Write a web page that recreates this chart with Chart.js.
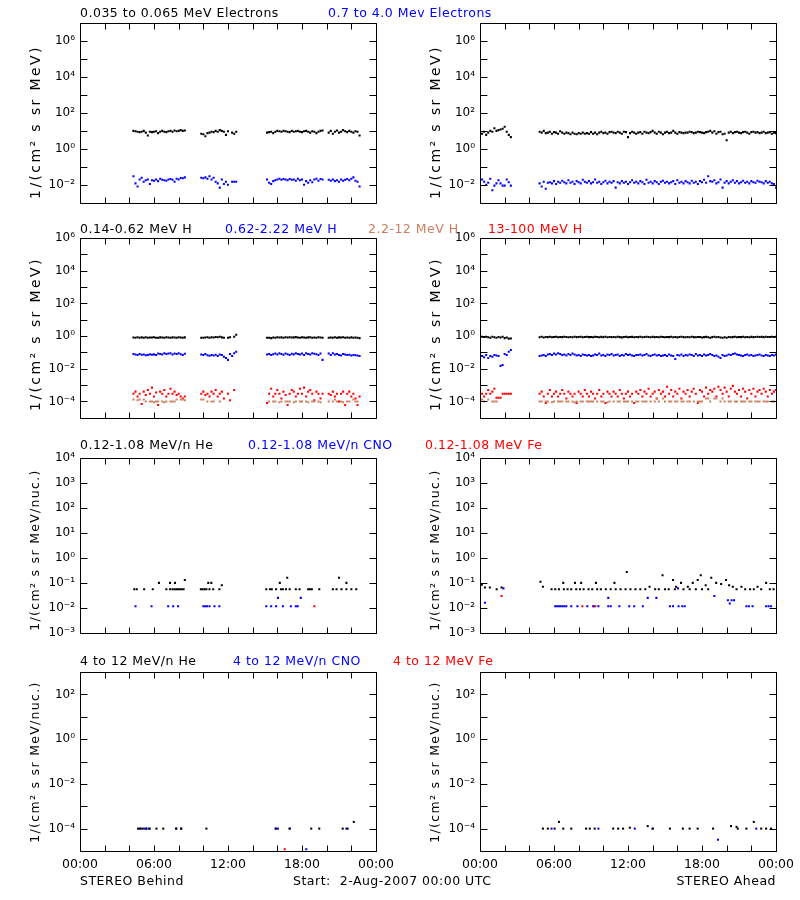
<!DOCTYPE html>
<html>
<head>
<meta charset="utf-8">
<title>STEREO in-situ particle summary, 2-Aug-2007</title>
<script src="https://cdn.jsdelivr.net/npm/chart.js@4.4.1/dist/chart.umd.min.js"></script>
<style>
  body { margin: 0; background: #fff; font-family: "DejaVu Sans", sans-serif; }
  #page { position: relative; width: 800px; height: 900px; overflow: hidden; }
  canvas { position: absolute; }
  .lbl { position: absolute; font-size: 12.5px; letter-spacing: .5px; line-height: 1; white-space: pre; transform: translateY(-50%); }
  .yt { position: absolute; line-height: 1; white-space: pre; transform: translate(-50%, -50%) rotate(-90deg); }
  .yt.big { font-size: 14px; letter-spacing: 2.4px; }
  .yt.small { font-size: 12.5px; letter-spacing: 1.3px; }
</style>
</head>
<body>
<div id="page">
  <div class="lbl" style="left:80px;top:13px">0.035 to 0.065 MeV Electrons</div>
  <div class="lbl" style="left:328px;top:13px;color:#00f">0.7 to 4.0 Mev Electrons</div>

  <div class="lbl" style="left:80px;top:229px">0.14-0.62 MeV H</div>
  <div class="lbl" style="left:225px;top:229px;color:#00f">0.62-2.22 MeV H</div>
  <div class="lbl" style="left:368px;top:229px;color:#cd7f5f">2.2-12 MeV H</div>
  <div class="lbl" style="left:488px;top:229px;color:#f00">13-100 MeV H</div>

  <div class="lbl" style="left:80px;top:445px">0.12-1.08 MeV/n He</div>
  <div class="lbl" style="left:248px;top:445px;color:#00f">0.12-1.08 MeV/n CNO</div>
  <div class="lbl" style="left:425px;top:445px;color:#f00">0.12-1.08 MeV Fe</div>

  <div class="lbl" style="left:80px;top:661px">4 to 12 MeV/n He</div>
  <div class="lbl" style="left:233px;top:661px;color:#00f">4 to 12 MeV/n CNO</div>
  <div class="lbl" style="left:393px;top:661px;color:#f00">4 to 12 MeV Fe</div>

  <div class="yt big" style="left:35px;top:122px">1/(cm² s sr MeV)</div>
  <div class="yt big" style="left:435px;top:122px">1/(cm² s sr MeV)</div>
  <div class="yt big" style="left:35px;top:334px">1/(cm² s sr MeV)</div>
  <div class="yt big" style="left:435px;top:334px">1/(cm² s sr MeV)</div>
  <div class="yt small" style="left:35px;top:550px">1/(cm² s sr MeV/nuc.)</div>
  <div class="yt small" style="left:435px;top:550px">1/(cm² s sr MeV/nuc.)</div>
  <div class="yt small" style="left:35px;top:762px">1/(cm² s sr MeV/nuc.)</div>
  <div class="yt small" style="left:435px;top:762px">1/(cm² s sr MeV/nuc.)</div>

  <div class="lbl" style="left:80px;top:881px">STEREO Behind</div>
  <div class="lbl" style="left:293px;top:881px">Start:  2-Aug-2007 00:00 UTC</div>
  <div class="lbl" style="right:24px;top:881px">STEREO Ahead</div>
</div>
<script>
// ---------------- data: hours after 2-Aug-2007 00:00 UTC ----------------
const STEP_MIN = 10;                       // 10-minute averages
const behindStarts = ['04:20', '09:50', '15:10', '20:10'];
const aheadStarts = ['00:00', '04:50'];

const xTickHours = [0, 2, 4, 6, 8, 10, 12, 14, 16, 18, 20, 22, 24];
const xLabelAt = [0, 6, 12, 18, 24];
const xLabelText = ['00:00', '06:00', '12:00', '18:00', '00:00'];

// y decades per row and which ones get a label
const eleDecades = [-3, -2, -1, 0, 1, 2, 3, 4, 5, 6, 7];
const eleLabeled = [-2, 0, 2, 4, 6];
const protDecades = [-5, -4, -3, -2, -1, 0, 1, 2, 3, 4, 5, 6];
const protLabeled = [-4, -2, 0, 2, 4, 6];
const lowIonDecades = [-3, -2, -1, 0, 1, 2, 3, 4];
const lowIonLabeled = [-3, -2, -1, 0, 1, 2, 3, 4];
const highIonDecades = [-5, -4, -3, -2, -1, 0, 1, 2, 3];
const highIonLabeled = [-4, -2, 0, 2];

// electrons, STEREO Behind (one array per data segment)
const bEleLow = [
  [10, 9.5, 9, 8.5, 9, 10, 8, 5.5, 9, 8.5, 9, 9.5, 7.5, 9, 10, 9, 8.5, 9.5, 10, 9, 10.5, 9.5, 10, 11, 10, 10.5],
  [7, 6.5, 5, 7.5, 8, 9, 8.5, 10, 9, 11, 10, 9, 6, 9.5, null, 8, 7, 9],
  [8, 8.5, 9, 7.5, 9, 10, 9.5, 9, 10, 9.5, 9, 8.5, 10, 9, 9.5, 10, 9, 8.5, 9.5, 10, 9, 8, 9.5, 9, 7.5, 9, 10, 10.5],
  [8, 10, 7, 9, 10.5, 8, 9, 11, 9.5, 8.5, 10, 9, 8, 9.5, 9, 5.5]
];
const bEleHigh = [
  [.03, .012, .008, .02, .025, .015, .018, .02, .011, .018, .017, .02, .016, .022, .019, .018, .017, .02, .021, .019, .015, .022, .02, .024, .023, .026],
  [.025, .023, .026, .022, .03, .02, .025, .015, .012, .007, .02, .011, .015, .01, null, .015, .015, .015],
  [.02, .013, .011, .016, .018, .02, .022, .019, .021, .02, .018, .021, .019, .02, .017, .022, .018, .02, .01, .016, .013, .018, .014, .02, .022, .017, .021, .02],
  [.019, .017, .02, .016, .018, .015, .02, .017, .019, .021, .018, .022, .026, .017, .015, .008]
];
// electrons, STEREO Ahead
const aEleLow = [
  [8, 7, 9, 6, 8, 10, 9, 14, 10, 11, 12, 13, 17, 9, 6, 4.5],
  [9, 8, 10, 7.5, 8, 9, 7, 8.5, 8, 7, 9.5, 8,
   7, 8, 7.5, 6.5, 8, 7, 6.5, 7.5, 7, 8, 7, 7.5,
   7, 8.5, 7, 8, 6.5, 8, 9, 7.5, 8, 7, 8.5, 9,
   8, 7.5, 9, 8, 7, 9, 8.5, 4.5, 7.5, 9, 8, 7,
   8, 8.5, 7, 9, 8, 7.5, 8.5, 10, 8, 7, 9, 8,
   6.5, 8, 9, 7.5, 8, 10, 8, 7, 8.5, 8, 7.5, 8,
   8, 9, 8.5, 7.5, 8, 9, 8.5, 8, 7.5, 8.5, 9, 10,
   8, 9.5, 7, 8.5, 9, 6.5, 7, 3, 8, 9, 7.5, 8.5,
   9, 8, 7.5, 8.5, 9, 8, 7, 8.5, 9, 8, 8.5, 7.5,
   8, 9, 7.5, 8, 8.5, 7, 8, 7.5]
];
const aEleHigh = [
  [.012, .02, .015, .01, .013, .022, .005, .009, .012, .018, .012, .009, .009, .02, .014, .009],
  [.012, .008, .015, .006, .013, .014, .012, .016, .011, .015, .013, .017,
   .014, .012, .018, .013, .015, .011, .016, .014, .012, .019, .015, .013,
   .016, .012, .014, .02, .013, .015, .011, .014, .017, .012, .015, .013,
   .016, .007, .014, .012, .016, .013, .015, .011, .014, .018, .013, .015,
   .012, .016, .014, .011, .019, .013, .015, .012, .016, .014, .011, .015,
   .017, .013, .015, .012, .014, .016, .011, .018, .013, .015, .012, .016,
   .014, .012, .017, .013, .015, .011, .016, .014, .019, .013, .03, .016,
   .015, .018, .012, .014, .02, .007, .013, .016, .012, .015, .018, .013,
   .016, .012, .014, .017, .013, .015, .012, .016, .014, .013, .017, .015,
   .014, .012, .016, .013, .015, .012, .011, .007]
];

// protons, STEREO Behind
const bH014 = [
  [.82, .8, .85, .78, .83, .8, .84, .79, .82, .81, .85, .8, .78, .83, .82, .8, .84, .81, .79, .83, .82, .8, .85, .81, .8, .83],
  [.8, .78, .82, .85, .8, .84, .82, .88, .85, .9, .83, .8, null, .78, .85, null, .9, 1.2],
  [.78, .8, .75, .82, .8, .84, .81, .83, .8, .85, .82, .84, .81, .83, .86, .82, .8, .84, .82, .8, .83, .85, .78, .82, .8, .84, .81, .79],
  [.8, .82, .78, .84, .8, .83, .81, .85, .8, .82, .78, .83, .8, .81, .79, .75]
];
const bH062 = [
  [.08, .075, .07, .08, .072, .075, .068, .07, .078, .073, .076, .07, .085, .08, .075, .09, .08, .085, .09, .075, .085, .08, .09, .078, .07, .082],
  [.075, .07, .08, .068, .062, .07, .065, .072, .06, .075, .07, .055, .045, .035, .08, .06, .09, .11],
  [.075, .08, .07, .078, .085, .075, .09, .08, .072, .085, .078, .07, .082, .076, .09, .08, .075, .085, .07, .088, .08, .075, .09, .082, .078, .07, .085, .035],
  [.085, .07, .09, .075, .08, .07, .065, .08, .075, .07, .072, .065, .07, .068, .065, .06]
];
const bH22 = [
  [1.3e-4, null, 1.2e-4, 1.3e-4, null, 1.3e-4, 1e-4, null, 1e-4, 1e-4, 9e-5, 1e-4, 1e-4, null, 1e-4, 9e-5, 1e-4, null, 1e-4, 1e-4, 1e-4, 1.3e-4, null, 1.3e-4, 1.3e-4, 1.2e-4],
  [1.3e-4, 1.3e-4, null, 1e-4, null, 1e-4, 1e-4, null, null, 1e-4, null, null, null, null, null, null, null, null],
  [null, 1e-4, null, 1e-4, 1e-4, null, 9e-5, 1e-4, null, 1e-4, 1e-4, 1e-4, null, 9e-5, 1e-4, null, 1e-4, 1e-4, null, 1e-4, 9e-5, null, 1e-4, 1e-4, null, 1e-4, 9e-5, null],
  [1e-4, null, 1e-4, 1.3e-4, 1e-4, null, 1e-4, 9e-5, null, 1e-4, 1e-4, null, 1.3e-4, 1e-4, 1e-4, null]
];
const bH13 = [
  [3e-4, 4e-4, 2e-4, 3e-4, 7e-5, 4e-4, 2.5e-4, 5e-4, 3e-4, 7e-4, 2e-4, 3.5e-4, 6e-5, 4e-4, 3e-4, 5e-4, 2e-4, 3e-4, 6e-4, 3e-4, 4e-4, 2.5e-4, 3e-4, 2e-4, 1.5e-4, 2e-4],
  [3e-4, 4e-4, 2.5e-4, 3e-4, 2e-4, 4e-4, 3e-4, 5e-4, 2e-4, 3e-4, 4e-4, 1.5e-4, null, 3e-4, 1.2e-4, null, 5e-4, null],
  [8e-5, 3e-4, 6e-4, 2e-4, 3e-4, 5e-4, 3e-4, 1.5e-4, 4e-4, 2.5e-4, 6e-5, 3e-4, 5e-4, 4e-4, 2e-4, 3e-4, 6e-4, 3e-4, 7e-4, 2e-4, 4e-4, 5e-4, 3e-4, 1.2e-4, 4e-4, 3e-4, 1.5e-4, 3e-4],
  [3e-4, 2.5e-4, 4e-4, 2e-4, 3e-4, 1e-4, 3e-4, 4e-4, 6e-5, 3e-4, 4e-4, 2e-4, 3e-4, 1.5e-4, 6e-5, 2e-4]
];

// protons, STEREO Ahead
const aH014 = [
  [.85, .9, .88, .92, .85, .8, .9, .85, .78, .88, .82, .9, .75, .82, .7, .72],
  [.85, .9, .82, .88, .86, .9, .84, .87, .9, .85, .88, .86,
   .9, .87, .85, .88, .84, .9, .86, .88, .92, .85, .87, .9,
   .86, .88, .84, .9, .87, .85, .89, .86, .9, .84, .88, .86,
   .88, .85, .9, .86, .83, .88, .9, .85, .87, .89, .84, .88,
   .86, .9, .85, .88, .92, .87, .84, .89, .86, .88, .85, .9,
   .87, .84, .88, .86, .9, .85, .88, .83, .87, .9, .86, .84,
   .88, .85, .9, .86, .84, .88, .87, .82, .86, .89, .85, .8,
   .86, .9, .84, .88, .82, .78, .85, .8, .88, .84, .86, .9,
   .85, .88, .86, .9, .84, .87, .85, .89, .86, .88, .9, .87,
   .89, .86, .9, .88, .87, .91, .88, .9]
];
const aH062 = [
  [.08, .06, .05, .07, .045, .06, .055, .07, .065, .06, .015, .017, .08, .07, .11, .14],
  [.06, .065, .07, .06, .075, .08, .07, .085, .075, .09, .08, .07,
   .075, .065, .08, .07, .085, .075, .065, .07, .06, .075, .07, .065,
   .07, .06, .065, .075, .07, .085, .065, .07, .06, .075, .07, .08,
   .065, .07, .075, .06, .07, .065, .08, .07, .075, .065, .06, .07,
   .07, .075, .065, .07, .08, .065, .06, .07, .075, .065, .07, .06,
   .065, .07, .06, .075, .065, .06, .04, .07, .065, .075, .06, .07,
   .065, .075, .07, .06, .08, .065, .07, .06, .075, .065, .07, .08,
   .07, .06, .065, .055, .045, .07, .06, .065, .075, .07, .08, .085,
   .075, .07, .065, .06, .07, .075, .065, .07, .06, .065, .07, .075,
   .065, .06, .07, .065, .06, .07, .065, .075]
];
const aH22 = [
  [null, 1.3e-4, 1e-4, null, 1.3e-4, null, 1e-4, 1e-4, 1e-4, null, null, null, null, null, null, null],
  [1e-4, 1e-4, null, 1e-4, 1e-4, null, 9e-5, 1e-4, null, 1e-4, 1e-4, 1e-4,
   null, 1e-4, 1e-4, null, 1e-4, 9e-5, 1e-4, null, 1e-4, 1e-4, null, 1e-4,
   1e-4, 1e-4, 1e-4, null, 1e-4, null, 1e-4, 1e-4, null, 9e-5, 1e-4, null,
   1e-4, null, 1e-4, 1e-4, null, 1e-4, 1e-4, 1e-4, null, 1e-4, null, 1e-4,
   1e-4, null, 1e-4, 1e-4, 1e-4, null, 1e-4, null, 1e-4, 1.5e-4, 1e-4, null,
   1.5e-4, 1e-4, null, 1e-4, 1e-4, null, 1e-4, 1e-4, null, 1e-4, 1e-4, null,
   1e-4, 1e-4, null, 1e-4, null, 1e-4, 1e-4, 1e-4, null, 1.5e-4, 1.5e-4, 1e-4,
   null, 1.5e-4, 1.5e-4, null, 1e-4, 1.5e-4, 1e-4, null, 1e-4, 1e-4, null, 1e-4,
   1e-4, null, 1e-4, 1e-4, 1e-4, null, 1e-4, 1e-4, null, 1e-4, 1e-4, 1e-4,
   null, 1e-4, 1e-4, 1e-4, null, 1e-4, 1e-4, null]
];
const aH13 = [
  [4e-4, 3e-4, 2e-4, 3e-4, 5e-4, 3e-4, 4e-4, 6e-4, 1.7e-4, 1.7e-4, 1.7e-4, 3e-4, 3e-4, 3e-4, 3e-4, 3e-4],
  [3e-4, 4e-4, 2e-4, 8e-5, 3e-4, 5e-4, 2e-4, 3e-4, 4e-4, 2e-4, 3e-4, 5e-4,
   3e-4, 1.5e-4, 4e-4, 3e-4, 2e-4, 3e-4, 8e-5, 4e-4, 3e-4, 2e-4, 5e-4, 3e-4,
   2e-4, 4e-4, 3e-4, 1.5e-4, 3e-4, 5e-4, 2e-4, 3e-4, 8e-5, 4e-4, 3e-4, 2e-4,
   4e-4, 3e-4, 2e-4, 5e-4, 3e-4, 1.5e-4, 3e-4, 4e-4, 2e-4, 3e-4, 8e-5, 4e-4,
   3e-4, 5e-4, 2e-4, 4e-4, 3e-4, 6e-4, 2e-4, 3e-4, 4e-4, 1.5e-4, 5e-4, 3e-4,
   4e-4, 2e-4, 8e-4, 3e-4, 5e-4, 2e-4, 4e-4, 3e-4, 6e-4, 1.5e-4, 4e-4, 3e-4,
   5e-4, 2e-4, 4e-4, 6e-4, 3e-4, 8e-5, 5e-4, 4e-4, 2e-4, 7e-4, 3e-4, 5e-4,
   4e-4, 6e-4, 2e-4, 8e-4, 5e-4, 3e-4, 7e-4, 4e-4, 2e-4, 6e-4, 9e-4, 4e-4,
   3e-4, 5e-4, 2e-4, 6e-4, 4e-4, 1.5e-4, 5e-4, 3e-4, 6e-4, 2e-4, 4e-4, 5e-4,
   3e-4, 6e-4, 4e-4, 2e-4, 5e-4, 3e-4, 4e-4, 5e-4]
];

// 0.12-1.08 MeV/n ions: [hour, flux]
const bHeLow = [[4.4, .055], [4.6, .055], [5.2, .055], [5.9, .055], [6.4, .1], [7.0, .055], [7.3, .055], [7.3, .1], [7.5, .055], [7.65, .055], [7.7, .1],
  [7.8, .055], [7.95, .055], [8.1, .055], [8.25, .055], [8.4, .055], [8.5, .13], [9.8, .055], [9.95, .055], [10.1, .055], [10.25, .055], [10.4, .1],
  [10.5, .055], [10.65, .1], [10.8, .055], [11.3, .055], [11.5, .08], [15.1, .055], [15.4, .055], [15.55, .055], [15.9, .055], [16.2, .1],
  [16.3, .055], [16.45, .055], [16.7, .055], [16.8, .16], [17.0, .055], [17.5, .055], [17.8, .055], [18.5, .055], [18.65, .055], [18.8, .055],
  [19.4, .055], [20.5, .055], [20.8, .055], [21.0, .16], [21.2, .055], [21.6, .055], [21.6, .1], [22.0, .055], [22.4, .055]];
const bCnoLow = [[4.5, .0115], [5.8, .0115], [7.15, .0115], [7.55, .0115], [7.95, .0115], [10.0, .0115], [10.15, .0115], [10.3, .0115], [10.5, .0115],
  [10.9, .0115], [11.3, .0115], [15.1, .0115], [15.5, .0115], [15.9, .0115], [16.05, .025], [16.45, .0115], [17.1, .0115], [17.5, .0115],
  [17.65, .0115], [17.9, .025]];
const bFeLow = [[19.0, .0115]];
const aHeLow = [[0.15, .085], [0.4, .065], [0.8, .065], [1.35, .055], [1.75, .065], [4.9, .11], [5.1, .07], [5.8, .055], [6.1, .055], [6.4, .055],
  [6.75, .1], [6.8, .055], [7.1, .055], [7.4, .055], [7.7, .1], [7.8, .055], [8.1, .055], [8.2, .1], [8.4, .055], [8.8, .055], [9.1, .055],
  [9.4, .1], [9.5, .055], [9.8, .055], [10.2, .055], [10.6, .055], [10.9, .1], [11.0, .055], [11.4, .055], [11.8, .055], [11.9, .27],
  [12.2, .055], [12.6, .055], [13.0, .055], [13.4, .055], [13.75, .07], [14.2, .055], [14.5, .055], [14.8, .2], [15.0, .055], [15.3, .055],
  [15.65, .13], [15.8, .055], [15.9, .07], [16.3, .1], [16.5, .055], [16.85, .07], [17.0, .055], [17.25, .1], [17.5, .055], [17.65, .13],
  [17.9, .2], [18.0, .055], [18.3, .08], [18.5, .055], [18.75, .16], [19.15, .1], [19.55, .09], [19.95, .13], [20.2, .08], [20.5, .07],
  [20.8, .055], [21.2, .07], [21.5, .055], [21.9, .055], [22.2, .055], [22.5, .07], [22.8, .055], [23.2, .1], [23.5, .055], [23.8, .055]];
const aCnoLow = [[0.4, .016], [1.9, .06], [6.1, .0115], [6.25, .0115], [6.4, .0115], [6.55, .0115], [6.7, .0115], [6.85, .0115], [7.0, .0115],
  [7.4, .0115], [7.9, .0115], [8.7, .0115], [9.2, .0115], [9.6, .0115], [10.4, .025], [10.4, .0115], [10.6, .0115], [11.3, .0115], [12.1, .0115],
  [12.5, .0115], [13.2, .0115], [13.6, .025], [14.3, .025], [15.4, .0115], [15.65, .0115], [16.05, .06], [16.1, .0115], [16.4, .0115],
  [16.6, .0115], [19.0, .03], [20.1, .02], [20.25, .015], [20.4, .02], [20.6, .02], [21.6, .0115], [21.8, .0115], [22.1, .0115], [23.2, .0115],
  [23.4, .0115], [23.6, .0115]];
const aFeLow = [[1.75, .03], [8.3, .0115], [9.2, .0115], [9.35, .0115]];

// 4-12 MeV/n ions: [hour, flux]
const bHeHigh = [[4.7, 1e-4], [4.85, 1e-4], [5.05, 1e-4], [5.4, 1e-4], [5.65, 1e-4], [6.2, 1e-4], [6.75, 1e-4], [7.8, 1e-4], [8.2, 1e-4],
  [10.25, 1e-4], [15.9, 1e-4], [17.0, 1e-4], [18.75, 1e-4], [19.4, 1e-4], [21.3, 1e-4], [21.7, 1e-4], [22.2, 2e-4]];
const bCnoHigh = [[4.9, 1e-4], [5.2, 1e-4], [5.35, 1e-4], [5.6, 1e-4], [7.8, 1e-4], [8.2, 1e-4], [15.85, 1e-4], [16.05, 1e-4], [17.0, 1e-4],
  [18.35, 1.2e-5], [21.6, 1e-4]];
const bFeHigh = [[16.6, 1.2e-5]];
const aHeHigh = [[5.1, 1e-4], [5.5, 1e-4], [6.05, 1e-4], [6.4, 2e-4], [6.75, 1e-4], [7.4, 1e-4], [8.6, 1e-4], [8.9, 1e-4], [9.3, 1e-4],
  [10.8, 1e-4], [11.2, 1e-4], [11.6, 1e-4], [12.15, 1.1e-4], [13.6, 1.3e-4], [14.0, 1e-4], [15.4, 1e-4], [16.45, 1e-4], [17.0, 1e-4],
  [17.65, 1e-4], [18.9, 1e-4], [20.35, 1.3e-4], [20.8, 1.2e-4], [20.9, 1e-4], [21.6, 1e-4], [22.2, 2e-4], [22.8, 1e-4], [23.2, 1e-4], [23.6, 1e-4]];
const aCnoHigh = [[5.8, 1e-4], [9.6, 1e-4], [12.55, 1e-4], [14.0, 1e-4], [19.3, 3.2e-5], [22.4, 1e-4]];
const aFeHigh = [];

// ---------------- drawing ----------------
const BLACK = '#000000', BLUE = '#0000ff', RED = '#ff0000', BROWN = '#cd7f5f';

Chart.defaults.font.family = '"DejaVu Sans", sans-serif';
Chart.defaults.font.size = 12;
Chart.defaults.color = '#000';

const toHours = s => { const [h, m] = s.split(':').map(Number); return h + m / 60; };

function segPoints(segs, starts) {
  const pts = [];
  segs.forEach((vals, k) => {
    const t0 = toHours(starts[k]);
    vals.forEach((v, i) => { if (v !== null) pts.push({ x: t0 + i * STEP_MIN / 60, y: v }); });
  });
  return pts;
}
const pairPoints = list => list.map(([x, y]) => ({ x, y }));

const SUP = { '-': '⁻', '0': '⁰', '1': '¹', '2': '²', '3': '³', '4': '⁴', '5': '⁵', '6': '⁶', '7': '⁷', '8': '⁸', '9': '⁹' };
const pow10 = e => '10' + String(e).split('').map(c => SUP[c]).join('');

// IDL-style frame: box plus inward ticks on all four sides
const idlFrame = {
  id: 'idlFrame',
  afterDraw(chart, args, opts) {
    const { ctx, chartArea: a, scales: { x, y } } = chart;
    const L = Math.round(a.left) + .5, R = Math.round(a.right) + .5;
    const T = Math.round(a.top) + .5, B = Math.round(a.bottom) + .5;
    ctx.save();
    ctx.strokeStyle = '#000';
    ctx.lineWidth = 1;
    ctx.beginPath();
    ctx.rect(L, T, R - L, B - T);
    xTickHours.forEach(h => {
      const px = Math.round(x.getPixelForValue(h)) + .5;
      ctx.moveTo(px, B); ctx.lineTo(px, B - 6);
      ctx.moveTo(px, T); ctx.lineTo(px, T + 6);
    });
    opts.decades.forEach(d => {
      const py = Math.round(y.getPixelForValue(Math.pow(10, d))) + .5;
      ctx.moveTo(L, py); ctx.lineTo(L + 7, py);
      ctx.moveTo(R, py); ctx.lineTo(R - 7, py);
    });
    ctx.stroke();
    ctx.restore();
  }
};

const rows = [
  { top: 0,   h: 215, padTop: 23, xh: 12, decades: eleDecades,     labeled: eleLabeled },
  { top: 215, h: 215, padTop: 23, xh: 12, decades: protDecades,    labeled: protLabeled },
  { top: 430, h: 215, padTop: 28, xh: 11, decades: lowIonDecades,  labeled: lowIonLabeled },
  { top: 645, h: 255, padTop: 27, xh: 49, decades: highIonDecades, labeled: highIonLabeled }
];

const panels = [
  { row: 0, col: 0, series: [[segPoints(bEleLow, behindStarts), BLACK], [segPoints(bEleHigh, behindStarts), BLUE]] },
  { row: 0, col: 1, series: [[segPoints(aEleLow, aheadStarts), BLACK], [segPoints(aEleHigh, aheadStarts), BLUE]] },
  { row: 1, col: 0, series: [[segPoints(bH014, behindStarts), BLACK], [segPoints(bH062, behindStarts), BLUE],
                             [segPoints(bH22, behindStarts), BROWN], [segPoints(bH13, behindStarts), RED]] },
  { row: 1, col: 1, series: [[segPoints(aH014, aheadStarts), BLACK], [segPoints(aH062, aheadStarts), BLUE],
                             [segPoints(aH22, aheadStarts), BROWN], [segPoints(aH13, aheadStarts), RED]] },
  { row: 2, col: 0, series: [[pairPoints(bHeLow), BLACK], [pairPoints(bCnoLow), BLUE], [pairPoints(bFeLow), RED]] },
  { row: 2, col: 1, series: [[pairPoints(aHeLow), BLACK], [pairPoints(aCnoLow), BLUE], [pairPoints(aFeLow), RED]] },
  { row: 3, col: 0, series: [[pairPoints(bHeHigh), BLACK], [pairPoints(bCnoHigh), BLUE], [pairPoints(bFeHigh), RED]] },
  { row: 3, col: 1, series: [[pairPoints(aHeHigh), BLACK], [pairPoints(aCnoHigh), BLUE], [pairPoints(aFeHigh), RED]] }
];

const page = document.getElementById('page');

panels.forEach(p => {
  const r = rows[p.row];
  const cv = document.createElement('canvas');
  cv.width = 400;
  cv.height = r.h;
  cv.style.left = (p.col * 400) + 'px';
  cv.style.top = r.top + 'px';
  page.insertBefore(cv, page.firstChild);

  new Chart(cv, {
    type: 'scatter',
    data: {
      datasets: p.series.map(([pts, color]) => ({
        data: pts,
        backgroundColor: color,
        borderColor: color,
        pointStyle: 'rect',
        pointRadius: 1.45,
        pointBorderWidth: 0,
        pointHoverRadius: 1.45
      }))
    },
    options: {
      responsive: false,
      animation: false,
      devicePixelRatio: 1,
      events: [],
      layout: { padding: { top: r.padTop, right: 24, left: 0, bottom: 0 } },
      plugins: {
        legend: { display: false },
        tooltip: { enabled: false },
        idlFrame: { decades: r.decades }
      },
      scales: {
        x: {
          type: 'linear', min: 0, max: 24,
          afterBuildTicks: s => { s.ticks = xTickHours.map(v => ({ value: v })); },
          afterFit: s => { s.height = r.xh; },
          grid: { display: false, drawTicks: false },
          border: { display: false },
          ticks: {
            display: p.row === 3,
            autoSkip: false, maxRotation: 0, padding: 6,
            font: { size: 12.5 },
            callback: v => { const i = xLabelAt.indexOf(v); return i >= 0 ? xLabelText[i] : ''; }
          }
        },
        y: {
          type: 'logarithmic',
          min: Math.pow(10, r.decades[0]),
          max: Math.pow(10, r.decades[r.decades.length - 1]),
          afterBuildTicks: s => { s.ticks = r.decades.map(d => ({ value: Math.pow(10, d) })); },
          afterFit: s => { s.width = 80; },
          grid: { display: false, drawTicks: false },
          border: { display: false },
          ticks: {
            autoSkip: false, padding: 5,
            callback: v => { const e = Math.round(Math.log10(v)); return r.labeled.includes(e) ? pow10(e) : ''; }
          }
        }
      }
    },
    plugins: [idlFrame]
  });
});
</script>
</body>
</html>
